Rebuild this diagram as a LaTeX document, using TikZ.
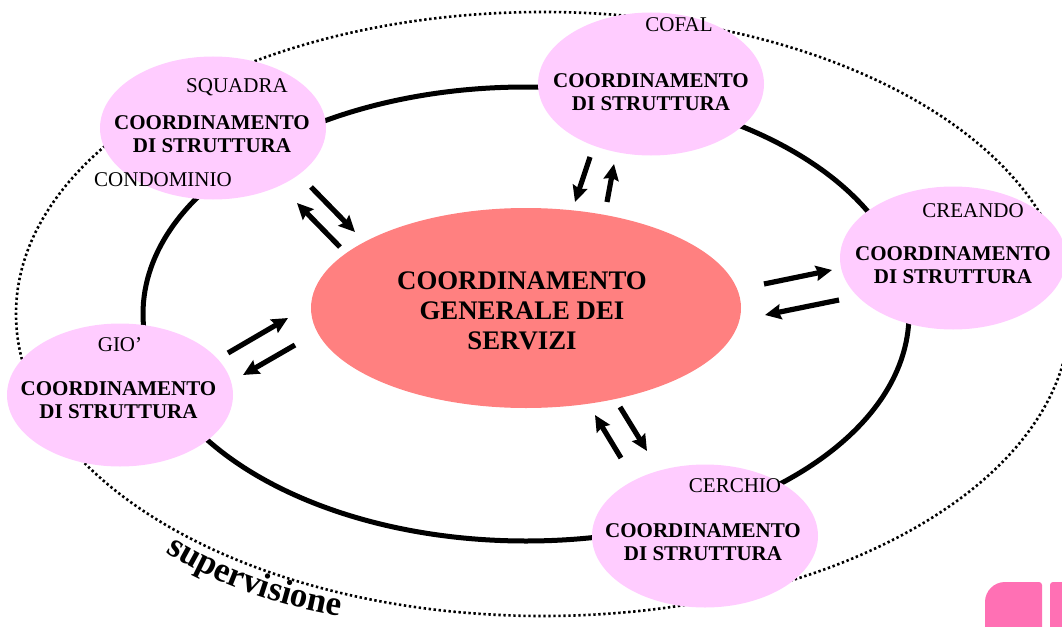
\documentclass[tikz,border=0pt]{standalone}
\usepackage{fontspec}
\setmainfont{Liberation Serif}
\usetikzlibrary{shapes.geometric,arrows.meta,decorations.text}
\definecolor{pinkfill}{HTML}{FFCCFF}
\definecolor{salmon}{HTML}{FF8080}
\definecolor{logopink}{HTML}{FF70B4}
\tikzset{
  unit/.style={ellipse, fill=pinkfill, draw=none, inner sep=0pt, minimum width=226pt, minimum height=143pt},
  boldtxt/.style={align=center, inner sep=0pt, font=\bfseries\fontsize{21}{23.5}\selectfont},
  nametxt/.style={inner sep=0pt, font=\fontsize{21}{23}\selectfont},
  flow/.style={line width=5.2pt, -{Stealth[length=16pt,width=15pt,inset=2pt]}},
}
\begin{document}
\begin{tikzpicture}[x=1pt,y=-1pt]
\useasboundingbox (0,0) rectangle (1062,626);
\clip (0,0) rectangle (1062,626);
% outer supervision ellipse
\node[ellipse, draw, line width=2.6pt, dash pattern=on 2.4pt off 2.6pt, inner sep=0pt,
      minimum width=1054pt, minimum height=604pt] (outer) at (543,314) {};
% inner ring
\node[ellipse, draw, line width=5pt, inner sep=0pt,
      minimum width=766pt, minimum height=454pt] (ring) at (526,314) {};
% units
\node[unit] (squadra) at (213,128) {};
\node[unit] (cofal) at (651,84) {};
\node[unit] (creando) at (953,258) {};
\node[unit] (gio) at (120,395) {};
\node[unit] (cerchio) at (705,536) {};
% center
\node[ellipse, fill=salmon, inner sep=0pt, minimum width=430pt, minimum height=200pt] (center) at (526,308) {};
% texts
\node[boldtxt, font=\bfseries\fontsize{26.8}{30}\selectfont] (ctext) at (522,311) {COORDINAMENTO\\GENERALE DEI\\SERVIZI};
\node[boldtxt] (t1) at (212,134) {COORDINAMENTO\\DI STRUTTURA};
\node[boldtxt] (t2) at (651,92) {COORDINAMENTO\\DI STRUTTURA};
\node[boldtxt] (t3) at (953,265) {COORDINAMENTO\\DI STRUTTURA};
\node[boldtxt] (t4) at (118.5,400) {COORDINAMENTO\\DI STRUTTURA};
\node[boldtxt] (t5) at (703,542) {COORDINAMENTO\\DI STRUTTURA};
\node[nametxt] (n1) at (237,87) {SQUADRA};
\node[nametxt] (n1b) at (163,180) {CONDOMINIO};
\node[nametxt] (n2) at (679,25) {COFAL};
\node[nametxt] (n3) at (973,211) {CREANDO};
\node[nametxt] (n4) at (120,345) {GIO’};
\node[nametxt] (n5) at (735,486) {CERCHIO};
% arrow end points
\coordinate (a1s) at (311,187); \coordinate (a1e) at (355,232);
\coordinate (a2s) at (340,247); \coordinate (a2e) at (297,203);
\coordinate (b1s) at (228,353); \coordinate (b1e) at (288,318);
\coordinate (b2s) at (295,345); \coordinate (b2e) at (243,375);
\coordinate (c1s) at (590,157); \coordinate (c1e) at (575,202);
\coordinate (c2s) at (607,202); \coordinate (c2e) at (614,164);
\coordinate (d1s) at (764,284); \coordinate (d1e) at (832,270);
\coordinate (d2s) at (839,300); \coordinate (d2e) at (765,315);
\coordinate (e1s) at (620,407); \coordinate (e1e) at (647,451);
\coordinate (e2s) at (621,458); \coordinate (e2e) at (595,415);
\foreach \p in {a1,a2,b1,b2,c1,c2,d1,d2,e1,e2}{
  \draw[flow] (\p s) -- (\p e);
}
% supervisione
\path[decorate, decoration={text along path, text align=center,
  text={|\bfseries\fontsize{35}{35}\selectfont|supervisione}}]
  (150,542) .. controls (212,584) and (277,607) .. (358,619);
% logo fragment
\fill[logopink, rounded corners=3pt] (1042,582) -- (1042,640) -- (985,640)
  [rounded corners=20pt] -- (985,582) [rounded corners=3pt] -- cycle;
\fill[logopink, rounded corners=3pt] (1050,582) rectangle (1075,640);
\end{tikzpicture}
\end{document}
